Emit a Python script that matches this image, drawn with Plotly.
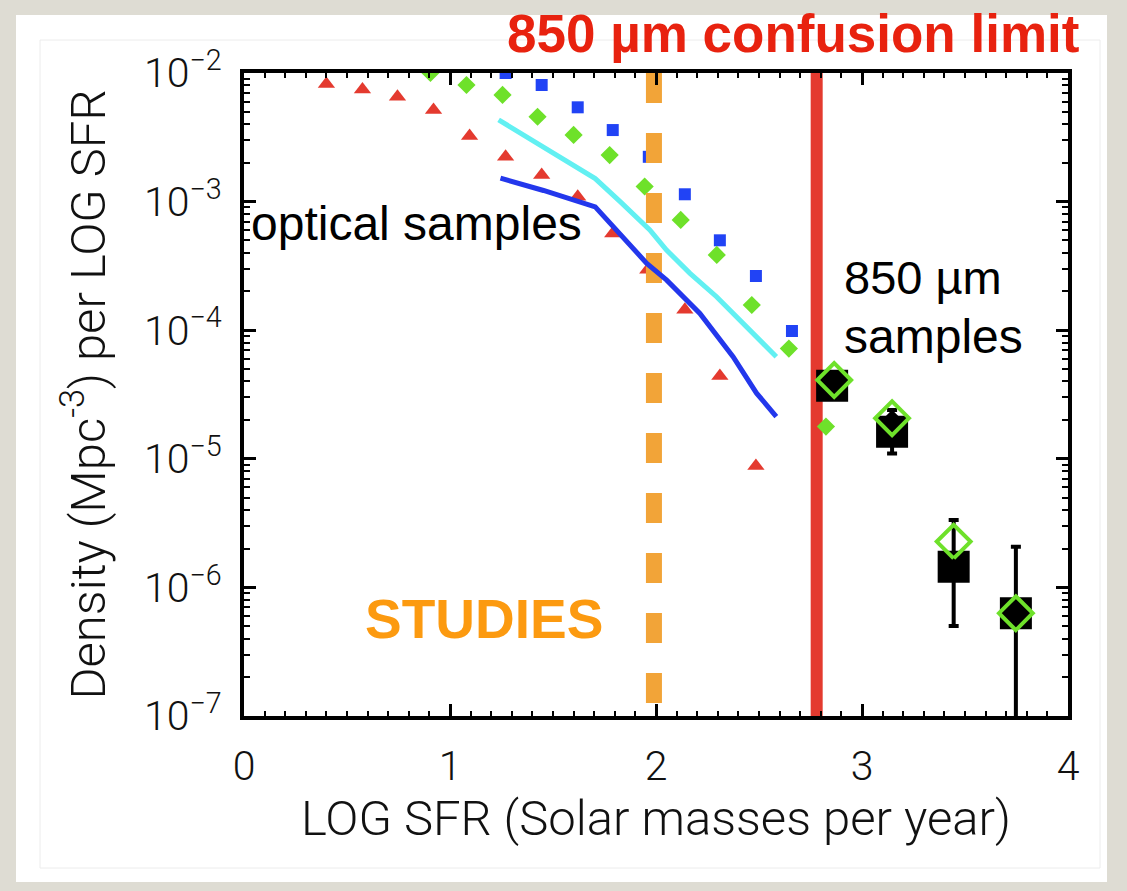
import plotly.graph_objects as go

W, H = 1127, 891
ML, MR, MT, MB = 244, 59, 73, 175
PW, PH = W - ML - MR, H - MT - MB

# ---------------- data ----------------
tri_x = [0.40, 0.575, 0.745, 0.92, 1.095, 1.27, 1.445, 1.62, 1.79, 1.96, 2.14, 2.31, 2.485]
tri_y = [8.2e-3, 7.45e-3, 6.55e-3, 5.15e-3, 3.24e-3, 2.23e-3, 1.61e-3, 1.09e-3,
         5.66e-4, 2.95e-4, 1.44e-4, 4.4e-5, 8.8e-6]

grn_x = [0.905, 1.08, 1.255, 1.425, 1.60, 1.775, 1.945, 2.12, 2.295, 2.465, 2.645, 2.825]
grn_y = [1.0e-2, 8.07e-3, 6.75e-3, 4.57e-3, 3.3e-3, 2.3e-3, 1.31e-3, 7.2e-4,
         3.85e-4, 1.57e-4, 7.2e-5, 1.78e-5]

blu_x = [1.27, 1.445, 1.62, 1.79, 1.965, 2.14, 2.31, 2.485, 2.66, 2.83]
blu_y = [1.0e-2, 8.07e-3, 5.41e-3, 3.6e-3, 2.23e-3, 1.14e-3, 5.0e-4, 2.64e-4, 9.86e-5, 3.13e-5]

cyan_x = [1.236, 1.438, 1.705, 1.826, 1.97, 2.051, 2.165, 2.294, 2.423, 2.584]
cyan_y = [4.32e-3, 2.75e-3, 1.51e-3, 1.0e-3, 6.03e-4, 4.2e-4, 2.77e-4, 1.82e-4, 1.13e-4, 6.22e-5]

bline_x = [1.245, 1.454, 1.705, 1.777, 1.89, 1.955, 2.052, 2.213, 2.374, 2.488, 2.584]
bline_y = [1.52e-3, 1.22e-3, 9.1e-4, 6.76e-4, 4.2e-4, 3.31e-4, 2.45e-4, 1.35e-4,
           6.22e-5, 3.24e-5, 2.13e-5]

smm_x = [2.855, 3.146, 3.445, 3.747]
smm_sq_y = [3.7e-5, 1.62e-5, 1.45e-6, 6.3e-7]
smm_err_hi = [3.7e-5, 2.4e-5, 3.34e-6, 2.07e-6]
smm_err_lo = [3.7e-5, 1.1e-5, 5.0e-7, 1.0e-9]
smm_blk_x = [2.85, 3.146, 3.445, 3.747]
smm_blk_y = [4.23e-5, 2.07e-5, 1.45e-6, 6.3e-7]
smm_grn_x = [2.865, 3.146, 3.445, 3.747]
smm_grn_y = [4.1e-5, 2.07e-5, 2.27e-6, 6.3e-7]

deep_limit_x = 1.99
confusion_limit_x = 2.78
y_min, y_max = 1e-7, 1e-2

x_ticks = [0, 1, 2, 3, 4]
y_ticks = [1e-2, 1e-3, 1e-4, 1e-5, 1e-6, 1e-7]
y_ticktext = ["10<sup>−2</sup>", "10<sup>−3</sup>", "10<sup>−4</sup>", "10<sup>−5</sup>",
              "10<sup>−6</sup>", "10<sup>−7</sup>"]

RED = "#e43a2f"
ORANGE = "#f2a438"
GREEN = "#6ee12a"
BLUE = "#2143f5"
CYAN = "#62f0f2"
BLINE = "#2337ec"

TICKFONT = dict(family="Roboto, DejaVu Sans, sans-serif", size=41, color="#111111", weight=300)
TITLEFONT = dict(family="Roboto, DejaVu Sans, sans-serif", size=49, color="#111111", weight=300)


def px(x):
    return (x - ML) / PW


def py(y):
    return (H - MB - y) / PH


fig = go.Figure()

# confusion limit line (below markers)
fig.add_trace(go.Scatter(x=[confusion_limit_x, confusion_limit_x], y=[y_max, y_min], mode="lines",
                         line=dict(color=RED, width=12), hoverinfo="skip", showlegend=False))

fig.add_trace(go.Scatter(x=tri_x, y=tri_y, mode="markers",
                         marker=dict(symbol="triangle-up", size=15, color=RED), showlegend=False))
fig.add_trace(go.Scatter(x=blu_x, y=blu_y, mode="markers",
                         marker=dict(symbol="square", size=12, color=BLUE), showlegend=False))
fig.add_trace(go.Scatter(x=grn_x, y=grn_y, mode="markers",
                         marker=dict(symbol="diamond", size=14, color=GREEN), showlegend=False))

# deep optical studies limit (dashed orange)
fig.add_trace(go.Scatter(x=[deep_limit_x, deep_limit_x], y=[y_max, y_min], mode="lines",
                         line=dict(color=ORANGE, width=16, dash="30px,30px"),
                         hoverinfo="skip", showlegend=False))

fig.add_trace(go.Scatter(x=cyan_x, y=cyan_y, mode="lines",
                         line=dict(color=CYAN, width=5), showlegend=False))
fig.add_trace(go.Scatter(x=bline_x, y=bline_y, mode="lines",
                         line=dict(color=BLINE, width=5), showlegend=False))

# 850 um samples
err_plus = [h - v for h, v in zip(smm_err_hi, smm_sq_y)]
err_minus = [v - l for l, v in zip(smm_err_lo, smm_sq_y)]
fig.add_trace(go.Scatter(x=smm_x, y=smm_sq_y, mode="markers",
                         marker=dict(symbol="square", size=32, color="black"),
                         error_y=dict(type="data", array=err_plus, arrayminus=err_minus,
                                      thickness=4, width=5, color="black"),
                         showlegend=False))
fig.add_trace(go.Scatter(x=smm_grn_x, y=smm_grn_y, mode="markers",
                         marker=dict(symbol="diamond-open", size=26, color=GREEN,
                                     line=dict(width=4, color=GREEN)), showlegend=False))
fig.add_trace(go.Scatter(x=smm_blk_x, y=smm_blk_y, mode="markers",
                         marker=dict(symbol="diamond", size=13, color="black"), showlegend=False))

shapes = [
    dict(type="rect", xref="paper", yref="paper", x0=px(16), x1=px(1107), y0=py(882), y1=py(15),
         fillcolor="white", line=dict(width=0), layer="below"),
    dict(type="rect", xref="paper", yref="paper", x0=px(40), x1=px(1100), y0=py(868), y1=py(40),
         fillcolor="rgba(0,0,0,0)", line=dict(width=1, color="#ececec"), layer="below"),
]

annotations = [
    dict(text="<b>850 µm confusion limit</b>", xref="paper", yref="paper", x=px(1081), y=py(33),
         xanchor="right", yanchor="middle", showarrow=False,
         font=dict(family="Liberation Sans, Arial, sans-serif", size=53, color="#e8220f")),
    dict(text="optical samples", xref="paper", yref="paper", x=px(249), y=py(223),
         xanchor="left", yanchor="middle", showarrow=False,
         font=dict(family="Liberation Sans, Arial, sans-serif", size=48, color="black")),
    dict(text="850 µm", xref="paper", yref="paper", x=px(842), y=py(277),
         xanchor="left", yanchor="middle", showarrow=False,
         font=dict(family="Liberation Sans, Arial, sans-serif", size=47, color="black")),
    dict(text="samples", xref="paper", yref="paper", x=px(842), y=py(336),
         xanchor="left", yanchor="middle", showarrow=False,
         font=dict(family="Liberation Sans, Arial, sans-serif", size=48, color="black")),
    dict(text="<b>STUDIES</b>", xref="paper", yref="paper", x=px(363), y=py(619),
         xanchor="left", yanchor="middle", showarrow=False,
         font=dict(family="Liberation Sans, Arial, sans-serif", size=55, color="#fc9a10")),
]

fig.update_layout(
    width=W, height=H,
    margin=dict(l=ML, r=MR, t=MT, b=MB),
    paper_bgcolor="#dedcd3",
    plot_bgcolor="white",
    shapes=shapes,
    annotations=annotations,
    showlegend=False,
    xaxis=dict(range=[0, 4], tickvals=x_ticks, ticktext=[str(t) for t in x_ticks],
               showgrid=False, zeroline=False, showline=True, linewidth=4, linecolor="black",
               mirror="allticks", ticks="inside", ticklen=12, tickwidth=3, tickcolor="black",
               minor=dict(ticks="inside", dtick=0.1, ticklen=5, tickwidth=2, tickcolor="black",
                          showgrid=False),
               tickfont=TICKFONT, ticklabelstandoff=11,
               title=dict(text="LOG SFR (Solar masses per year)", font=TITLEFONT, standoff=4)),
    yaxis=dict(type="log", range=[-7, -2], tickvals=y_ticks, ticktext=y_ticktext,
               showgrid=False, zeroline=False, showline=True, linewidth=4, linecolor="black",
               mirror="allticks", ticks="inside", ticklen=12, tickwidth=3, tickcolor="black",
               minor=dict(ticks="inside", dtick="D1", ticklen=6, tickwidth=2, tickcolor="black",
                          showgrid=False),
               tickfont=TICKFONT, ticklabelstandoff=10,
               title=dict(text="Density (Mpc<sup>-3</sup>) per LOG SFR", font=TITLEFONT, standoff=24)),
)

fig.write_html("out.html")
